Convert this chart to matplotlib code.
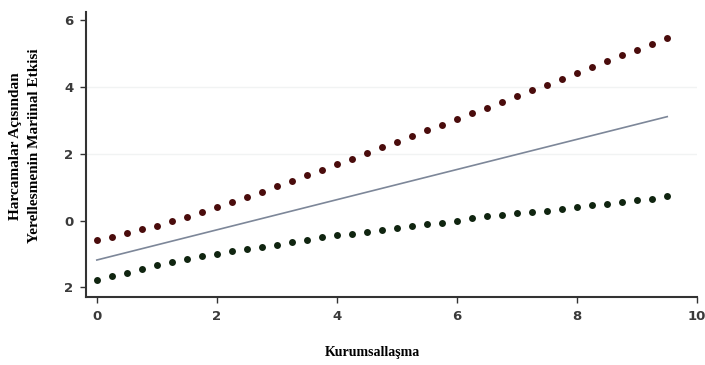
import numpy as np
import matplotlib
matplotlib.use("Agg")
import matplotlib.pyplot as plt

# x values of the dotted confidence bands (0 .. 9.5, step 0.25)
x_band = np.arange(0, 9.51, 0.25)

upper = [-0.58, -0.50, -0.38, -0.26, -0.16, -0.02, 0.10, 0.25, 0.40, 0.55,
         0.70, 0.87, 1.04, 1.19, 1.35, 1.51, 1.69, 1.85, 2.03, 2.19,
         2.36, 2.53, 2.70, 2.87, 3.04, 3.21, 3.38, 3.56, 3.73, 3.90,
         4.07, 4.25, 4.42, 4.59, 4.77, 4.95, 5.11, 5.28, 5.47]

lower = [-1.78, -1.66, -1.56, -1.44, -1.34, -1.25, -1.14, -1.07, -0.99, -0.91,
         -0.85, -0.78, -0.72, -0.65, -0.58, -0.50, -0.44, -0.40, -0.34, -0.28,
         -0.22, -0.16, -0.11, -0.07, -0.01, 0.08, 0.13, 0.16, 0.22, 0.25,
         0.29, 0.34, 0.40, 0.46, 0.51, 0.56, 0.61, 0.66, 0.73]

# marginal effect line
x_line = [0, 9.5]
y_line = [-1.18, 3.11]

xticks = [0, 2, 4, 6, 8, 10]
yticks = [-2, 0, 2, 4, 6]
ytick_labels = ["2", "0", "2", "4", "6"]

fig = plt.figure(figsize=(7.05, 3.65), dpi=100)
ax = fig.add_axes([0.122, 0.186, 0.867, 0.781])

for yt in [2, 4]:
    ax.axhline(yt, color="#f1f3f3", lw=1.0, zorder=0)

ax.plot(x_line, y_line, color="#7d8799", lw=1.2)
ax.plot(x_band, upper, "o", color="#4a0c0c", ms=5, mec="none")
ax.plot(x_band, lower, "o", color="#102510", ms=5, mec="none")

ax.set_xlim(-0.18, 10.0)
ax.set_ylim(-2.29, 6.24)

for s in ["top", "right"]:
    ax.spines[s].set_visible(False)
for s in ["left", "bottom"]:
    ax.spines[s].set_color("#333333")
    ax.spines[s].set_linewidth(1.5)

ax.set_xticks(xticks)
ax.set_yticks(yticks)
ax.set_yticklabels(ytick_labels)
ax.tick_params(axis="both", colors="#333333", length=4, width=1.0,
               labelsize=9.5, pad=5)
for lab in ax.get_xticklabels() + ax.get_yticklabels():
    lab.set_fontweight("bold")
    lab.set_color("#3a3a3a")

ax.set_xlabel("Kurumsallaşma", family="Liberation Serif", fontweight="bold",
              fontsize=10)
ax.xaxis.set_label_coords(0.468, -0.17)
ax.set_ylabel("Harcamalar Açısından\nYerellesmenin Mariinal Etkisi",
              family="Liberation Serif", fontweight="bold", fontsize=11,
              linespacing=1.6)
ax.yaxis.set_label_coords(-0.074, 0.53)

fig.savefig("out.png", dpi=100)
